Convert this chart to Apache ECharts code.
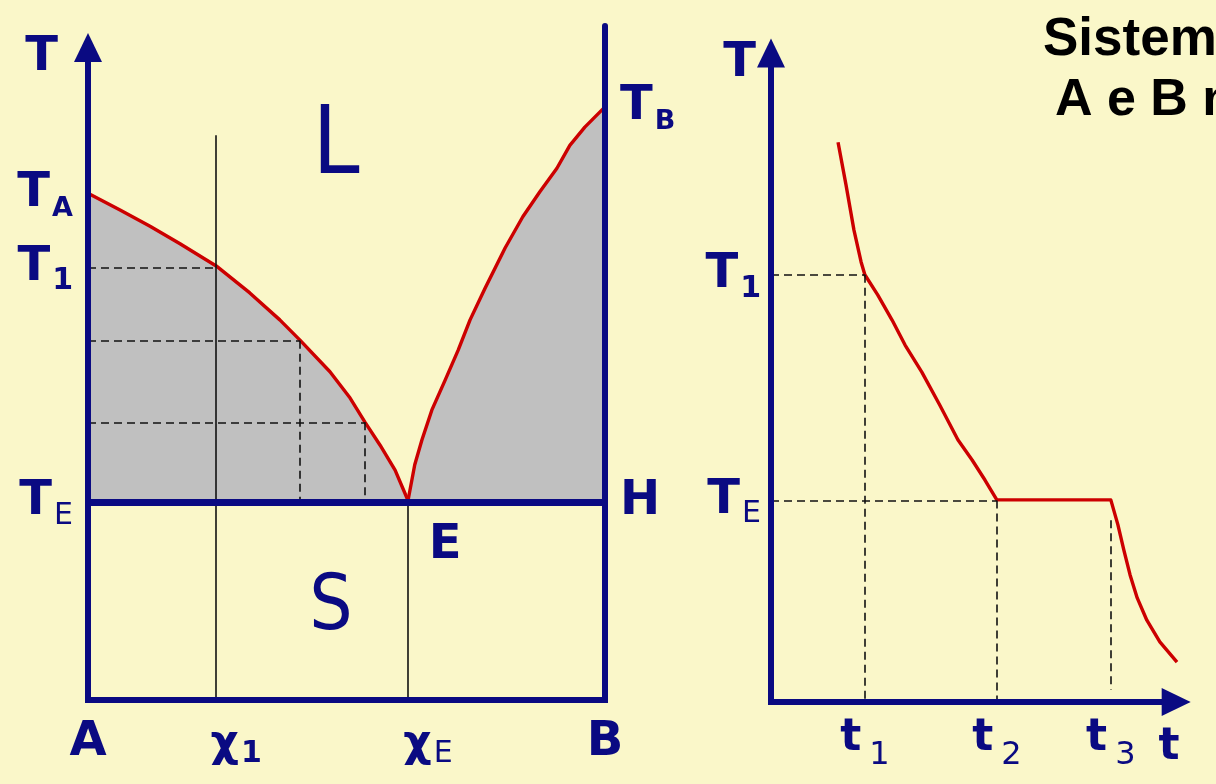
<!DOCTYPE html>
<html><head><meta charset="utf-8">
<script src="https://cdn.jsdelivr.net/npm/echarts@6/dist/echarts.min.js"></script>
<style>html,body{margin:0;padding:0;background:#faf7c9;}#chart{width:1216px;height:784px;}</style>
</head><body><div id="chart"></div>
<script>
// ---------- Left panel: phase diagram (composition %B vs temperature) ----------
const compTickValues = [0, 24.8, 61.9, 100];
const compTickLabels = ['A', 'χ_1', 'χ_E', 'B'];
const tempTickValuesLeft = [75.2, 64.2, 29.4];
const tempTickLabelsLeft = ['T_A', 'T_1', 'T_E'];
const tempTickValuesRight = [88.0, 29.4];
const tempTickLabelsRight = ['T_B', 'H'];
const eutecticTemp = 29.4;
const eutecticComp = 61.9;
const x1Comp = 24.8;
const x1LineTop = 83.8;
const coolingLevels = [64.2, 53.3, 41.2];
const coolingComps = [24.8, 41.0, 53.6];
const liquidusA = [[0,75.2],[6.2,72.7],[12.0,70.3],[17.8,67.7],[24.8,64.4],[31.3,60.4],[37.1,56.4],[41.0,53.4],[46.8,48.7],[50.7,44.8],[53.6,41.2],[56.5,37.8],[59.4,34.1],[61.9,29.6]];
const liquidusB = [[61.9,29.6],[63.2,34.9],[64.6,38.6],[66.5,43.0],[69.1,47.5],[71.6,51.9],[73.9,56.4],[76.8,61.1],[80.7,67.1],[84.1,71.7],[87.4,75.4],[90.7,78.9],[93.2,82.3],[96.1,85.0],[100,88.0]];
const regionNames = ['L', 'S', 'E'];
const regionComp = [48.0, 47.0, 69.1];
const regionTemp = [81.8, 13.4, 22.9];
const leftArrowTip = 96.8;

// ---------- Right panel: cooling curve (time vs temperature) ----------
const timeTickValues = [22.4, 53.9, 81.1, 95.0];
const timeTickLabels = ['t_1', 't_2', 't_3', 't'];
const coolTickValues = [63.2, 29.8];
const coolTickLabels = ['T_1', 'T_E'];
const coolT1 = 63.2, coolTE = 29.8;
const t1 = 22.4, t2 = 53.9, t3 = 81.1;
const t3DashTop = 26.9, t3DashBottom = 1.8;
const coolingCurve = [[16.0,82.8],[17.9,76.5],[19.8,69.8],[21.5,65.1],[22.4,63.2],[25.5,60.2],[28.9,56.5],[32.0,52.8],[36.0,48.8],[40.3,43.9],[44.6,38.8],[48.0,35.8],[51.1,32.8],[53.9,29.9],[81.1,29.9],[82.8,26.2],[84.2,22.5],[85.7,18.8],[87.4,15.4],[89.7,12.1],[92.8,8.9],[96.9,5.9]];
const rightArrowTipY = 96.0;
const rightArrowTipX = 96.7;

const titleLines = ['Sistema Binário', 'A e B não miscíveis no estado sólido'];

// ---------- styles ----------
const navy = '#0a0a82';
const red = '#cc0000';
const grey = '#c0c0c0';
const bg = '#faf7c9';
const F = 'DejaVu Sans';
const base = {fontFamily:F, color:navy, verticalAlign:'bottom'};
const rich = {
  Ty: Object.assign({}, base, {fontWeight:'bold', fontSize:48, lineHeight:58, verticalAlign:'middle'}),
  Tx: Object.assign({}, base, {fontWeight:'bold', fontSize:48, lineHeight:48, padding:[0,0,2,0]}),
  t: Object.assign({}, base, {fontWeight:'bold', fontSize:44, lineHeight:48, padding:[0,0,11,0]}),
  tl: Object.assign({}, base, {fontWeight:'bold', fontSize:44, lineHeight:46}),
  c: Object.assign({}, base, {fontWeight:'bold', fontSize:44, lineHeight:48, padding:[0,0,2,0]}),
  sa: Object.assign({}, base, {fontWeight:'bold', fontSize:27, lineHeight:18}),
  sd: Object.assign({}, base, {fontWeight:'bold', fontSize:30, lineHeight:18}),
  se: Object.assign({}, base, {fontWeight:'normal', fontSize:30, lineHeight:18}),
  st: Object.assign({}, base, {fontWeight:'normal', fontSize:32, lineHeight:18}),
  gap: {width:2, fontSize:10, lineHeight:10},
  gap2: {width:8, fontSize:10, lineHeight:10},
  sp: {width:40, fontSize:10, lineHeight:10}
};
function richLabel(label, mainStyle) {
  const parts = label.split('_');
  const main = parts[0], sub = parts[1];
  let s = '';
  if (main === 'χ') s += '{sp|\u00a0}{c|χ}';
  else s += '{' + mainStyle + '|' + main + '}';
  if (sub) {
    let st = /\d/.test(sub) ? 'sd' : (sub === 'E' ? 'se' : 'sa');
    if (mainStyle === 't') st = 'st';
    s += (mainStyle === 't' ? '{gap2|\u00a0}' : '{gap|\u00a0}') + '{' + st + '|' + sub + '}';
  }
  return s;
}
function lookup(values, labels, v, mainStyle) {
  let best = 0;
  for (let i = 1; i < values.length; i++) if (Math.abs(values[i] - v) < Math.abs(values[best] - v)) best = i;
  const lab = labels[best];
  if (mainStyle === 't' && lab === 't') return '{tl|t}';
  return richLabel(lab, mainStyle);
}
function seg(a, b, style) {
  return [Object.assign({coord:a, symbol:'none'}, style ? {lineStyle:style} : {}), {coord:b, symbol:'none'}];
}
const dashStyle = {color:'#111', width:1.6, type:[8,5]};
const thinStyle = {color:'#111', width:1.6, type:'solid'};

const chart = echarts.init(document.getElementById('chart'), null, {renderer:'canvas'});
const option = {
  animation: false,
  backgroundColor: bg,
  title: [
    {text: titleLines[0], left: 1043, top: 14, padding: 0, textStyle:{fontFamily:'Liberation Sans', fontWeight:'bold', fontSize:53, color:'#000', lineHeight:53}},
    {text: titleLines[1], left: 1055, top: 75, padding: 0, textStyle:{fontFamily:'Liberation Sans', fontWeight:'bold', fontSize:52, color:'#000', lineHeight:52}}
  ],
  grid: [
    {left: 88, top: 26, width: 517, height: 674},
    {left: 771, top: 26, width: 419, height: 676}
  ],
  xAxis: [
    {gridIndex:0, type:'value', min:0, max:100, z:10,
     axisLine:{show:true, lineStyle:{color:navy, width:6, cap:'square'}},
     axisTick:{show:false}, splitLine:{show:false},
     axisLabel:{customValues: compTickValues, margin:21, rich: rich,
       formatter: v => lookup(compTickValues, compTickLabels, v, 'Tx')}},
    {gridIndex:1, type:'value', min:0, max:100,
     axisLine:{show:false}, axisTick:{show:false}, splitLine:{show:false},
     axisLabel:{customValues: timeTickValues, margin:22, rich: rich,
       formatter: v => lookup(timeTickValues, timeTickLabels, v, 't')}}
  ],
  yAxis: [
    {gridIndex:0, type:'value', min:0, max:100, position:'left',
     axisLine:{show:false}, axisTick:{show:false}, splitLine:{show:false},
     name:'T', nameLocation:'end', nameGap:-32,
     nameTextStyle:{fontFamily:F, fontWeight:'bold', fontSize:48, lineHeight:48, color:navy, align:'right', verticalAlign:'middle', padding:[0,30,0,0]},
     axisLabel:{customValues: tempTickValuesLeft, margin:15, rich: rich,
       formatter: v => lookup(tempTickValuesLeft, tempTickLabelsLeft, v, 'Ty')}},
    {gridIndex:0, type:'value', min:0, max:100, position:'right', z:10,
     axisLine:{show:true, lineStyle:{color:navy, width:6}},
     axisTick:{show:false}, splitLine:{show:false},
     axisLabel:{customValues: tempTickValuesRight, margin:15, rich: rich,
       formatter: v => lookup(tempTickValuesRight, tempTickLabelsRight, v, 'Ty')}},
    {gridIndex:1, type:'value', min:0, max:100, position:'left',
     axisLine:{show:false}, axisTick:{show:false}, splitLine:{show:false},
     name:'T', nameLocation:'end', nameGap:-38,
     nameTextStyle:{fontFamily:F, fontWeight:'bold', fontSize:48, lineHeight:48, color:navy, align:'right', verticalAlign:'middle', padding:[0,15,0,0]},
     axisLabel:{customValues: coolTickValues, margin:10, rich: rich,
       formatter: v => lookup(coolTickValues, coolTickLabels, v, 'Ty')}}
  ],
  series: [
    // grey two-phase fills
    {type:'line', xAxisIndex:0, yAxisIndex:0, data: liquidusA, symbol:'none', z:1, silent:true,
     lineStyle:{width:0}, areaStyle:{color:grey, opacity:1, origin: eutecticTemp}},
    {type:'line', xAxisIndex:0, yAxisIndex:0, data: liquidusB, symbol:'none', z:1, silent:true,
     lineStyle:{width:0}, areaStyle:{color:grey, opacity:1, origin: eutecticTemp}},
    // guide lines (left)
    {type:'line', xAxisIndex:0, yAxisIndex:0, data:[], z:2, clip:false, silent:true,
     markLine:{silent:true, symbol:'none', label:{show:false}, animation:false, lineStyle:dashStyle,
       data:[
         seg([x1Comp,0],[x1Comp,x1LineTop], thinStyle),
         seg([eutecticComp,0],[eutecticComp,eutecticTemp], thinStyle),
         seg([0,coolingLevels[0]],[coolingComps[0],coolingLevels[0]], dashStyle),
         seg([0,coolingLevels[1]],[coolingComps[1],coolingLevels[1]], dashStyle),
         seg([0,coolingLevels[2]],[coolingComps[2],coolingLevels[2]], dashStyle),
         seg([coolingComps[1],coolingLevels[1]],[coolingComps[1],eutecticTemp], dashStyle),
         seg([coolingComps[2],coolingLevels[2]],[coolingComps[2],eutecticTemp], dashStyle)
       ]}},
    // liquidus curves
    {type:'line', xAxisIndex:0, yAxisIndex:0, data: liquidusA, symbol:'none', z:3, silent:true, clip:false,
     lineStyle:{color:red, width:3.4, join:'round'}},
    {type:'line', xAxisIndex:0, yAxisIndex:0, data: liquidusB, symbol:'none', z:3, silent:true, clip:false,
     lineStyle:{color:red, width:3.4, join:'round'}},
    // frame (left)
    {type:'line', xAxisIndex:0, yAxisIndex:0, data:[], z:10, clip:false, silent:true,
     markLine:{silent:true, symbol:'none', label:{show:false}, animation:false,
       lineStyle:{color:navy, width:6, type:'solid', cap:'square'},
       data:[
         [{coord:[0,0], symbol:'none'}, {coord:[0,leftArrowTip], symbol:'triangle', symbolSize:[28,29]}],
         [{coord:[0,eutecticTemp], symbol:'none', lineStyle:{color:navy, width:7, type:'solid', cap:'butt'}}, {coord:[100,eutecticTemp], symbol:'none'}]
       ]}},
    // region labels
    {type:'scatter', xAxisIndex:0, yAxisIndex:0, symbolSize:0, z:11, silent:true,
     itemStyle:{opacity:1, color:navy},
     data: regionNames.map((n,i) => ({name:n, value:[regionComp[i], regionTemp[i]]})),
     label:{show:true, position:'inside', formatter: p => p.name, color:navy, opacity:1,
       fontFamily:'"Liberation Sans Narrow", "DejaVu Sans Condensed", "DejaVu Sans"', fontSize:90},
     emphasis:{disabled:true}},
    // guide lines (right)
    {type:'line', xAxisIndex:1, yAxisIndex:2, data:[], z:2, clip:false, silent:true,
     markLine:{silent:true, symbol:'none', label:{show:false}, animation:false, lineStyle:dashStyle,
       data:[
         seg([0,coolT1],[t1,coolT1], dashStyle),
         seg([t1,coolT1],[t1,0], dashStyle),
         seg([0,coolTE],[t2,coolTE], dashStyle),
         seg([t2,coolTE],[t2,0], dashStyle),
         seg([t3,t3DashTop],[t3,t3DashBottom], dashStyle)
       ]}},
    // cooling curve
    {type:'line', xAxisIndex:1, yAxisIndex:2, data: coolingCurve, symbol:'none', z:3, silent:true, clip:false,
     lineStyle:{color:red, width:3.4, join:'round'}},
    // frame (right)
    {type:'line', xAxisIndex:1, yAxisIndex:2, data:[], z:10, clip:false, silent:true,
     markLine:{silent:true, symbol:'none', label:{show:false}, animation:false,
       lineStyle:{color:navy, width:6, type:'solid', cap:'square'},
       data:[
         [{coord:[0,0], symbol:'none'}, {coord:[0,rightArrowTipY], symbol:'triangle', symbolSize:[28,29]}],
         [{coord:[0,0], symbol:'none'}, {coord:[rightArrowTipX,0], symbol:'triangle', symbolSize:[28,29]}]
       ]}}
  ]
};
// per-label font sizes for region letters
option.series[6].data[0].label = {fontSize:94, color:navy};
option.series[6].data[1].label = {fontSize:76, color:navy};
option.series[6].data[2].label = {fontFamily:F, fontWeight:'bold', fontSize:48, color:navy};
chart.setOption(option);
</script></body></html>
